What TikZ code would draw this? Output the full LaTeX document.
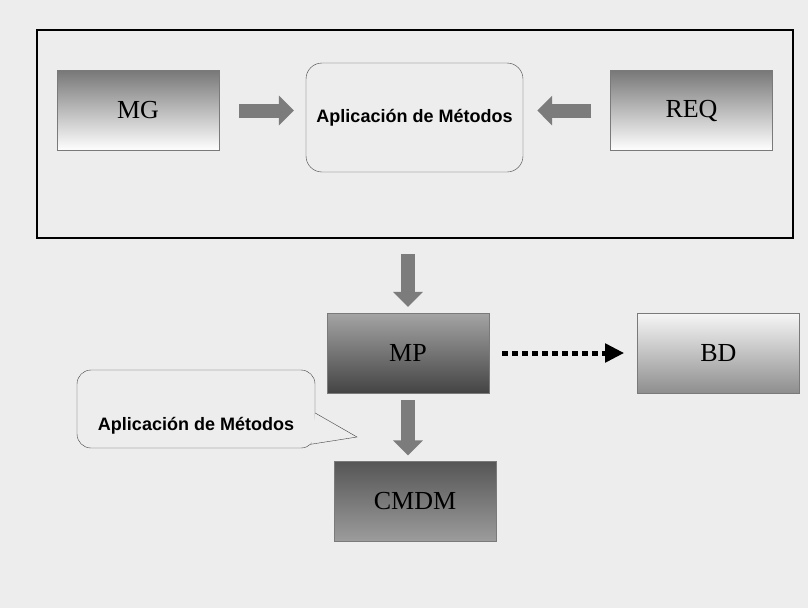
\documentclass[tikz,border=0pt]{standalone}
\usepackage{fontspec}
\setmainfont{Liberation Serif}
\newfontfamily\notefont{Liberation Sans}
\usetikzlibrary{arrows.meta,positioning}
\definecolor{paper}{HTML}{EDEDED}
\definecolor{edge}{HTML}{7A7A7A}
\definecolor{blockgray}{HTML}{7C7C7C}
\definecolor{mgtop}{HTML}{787878}
\definecolor{mptop}{HTML}{A4A4A4}
\definecolor{mpbot}{HTML}{444444}
\definecolor{bdtop}{HTML}{F6F6F6}
\definecolor{bdbot}{HTML}{8E8E8E}
\definecolor{cmtop}{HTML}{565656}
\definecolor{cmbot}{HTML}{9C9C9C}

\begin{document}
\begin{tikzpicture}[x=1pt,y=-1pt,
    box/.style={draw=edge,minimum width=162pt,minimum height=80pt,inner sep=0pt,
                font=\fontsize{26}{30}\selectfont},
    fadebox/.style={box,top color=mgtop,bottom color=white},
    mpbox/.style={box,top color=mptop,bottom color=mpbot},
    bdbox/.style={box,top color=bdtop,bottom color=bdbot},
    cmbox/.style={box,top color=cmtop,bottom color=cmbot},
    method/.style={draw=black!75,rounded corners=16pt,minimum width=217pt,minimum height=109pt,
                   font=\notefont\bfseries\fontsize{18}{22}\selectfont},
    note/.style={draw=black!75,rounded corners=14pt,minimum width=238pt,inner sep=0pt,
                 text height=60pt,text depth=18pt,
                 font=\notefont\bfseries\fontsize{18}{22}\selectfont},
    block/.style={line width=14pt,draw=blockgray,-{Triangle[length=15pt,width=29pt]}},
    dots/.style={line width=5pt,draw=black,dash pattern=on 6pt off 4pt,
                 -{Triangle[length=19pt,width=18pt]}}
  ]
    \useasboundingbox[fill=paper] (0,0) rectangle (808,608);

    \node[draw=black,line width=2pt,minimum width=756pt,minimum height=208pt] (grp) at (415,134) {};

    \node[fadebox] (mg) at (138,110.5) {MG};
    \node[method] (app) at (414.5,117.5) {Aplicación de Métodos};
    \node[fadebox] (req) at (691.5,110.5) {REQ};

    \node[mpbox] (mp) at (408,353) {MP};
    \node[bdbox,right=148pt of mp] (bd) {BD};
    \node[cmbox] (cmdm) at (415,501.5) {CMDM};

    \node[note] (call) at (196,409) {Aplicación de Métodos};
    \coordinate (tip) at (357,437);
    \path[fill=paper,draw=black!75] ([yshift=-4pt]call.east) -- (tip)
        -- ([xshift=-4pt,yshift=4pt]call.south east);

    \draw[block,shorten <=20pt,shorten >=12pt] (mg.east) -- (app.west |- mg.east);
    \draw[block,shorten <=19pt,shorten >=14pt] (req.west) -- (app.east |- req.west);
    \draw[block,shorten <=15pt,shorten >=6pt] (grp.south -| mp.north) -- (mp.north);
    \draw[block,shorten <=7pt,shorten >=6pt] (mp.south) -- (mp.south |- cmdm.north);
    \draw[dots,shorten <=13pt,shorten >=13pt] (mp.east) -- (bd.west);
  \end{tikzpicture}
\end{document}
